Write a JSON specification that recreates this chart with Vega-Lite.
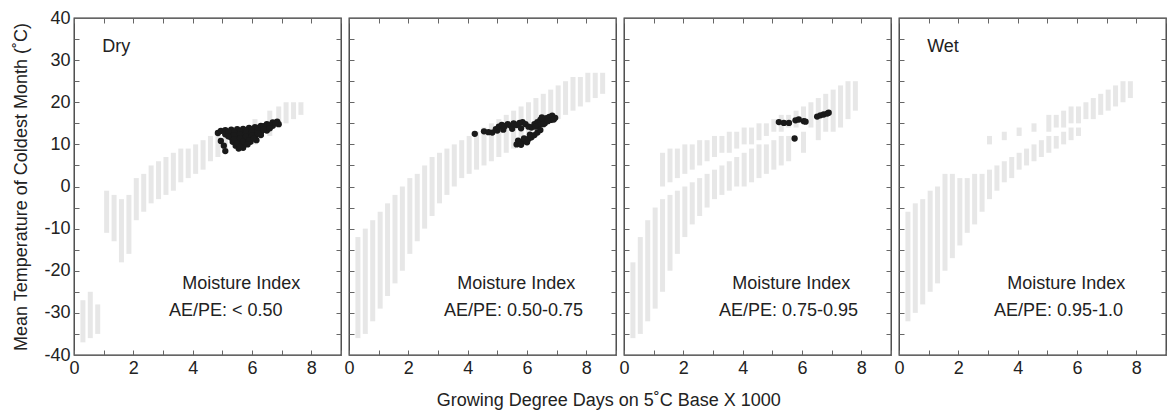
{
  "$schema": "https://vega.github.io/schema/vega-lite/v6.json",
  "padding": {"left": 12, "top": 8, "right": 0, "bottom": 4},
  "spacing": 8,
  "bounds": "flush",
  "title": {"text": "Growing Degree Days on 5˚C Base X 1000", "orient": "bottom", "anchor": "middle", "fontSize": 18, "fontWeight": "normal", "font": "Liberation Sans", "color": "#222", "offset": 14, "dx": 19},
  "data": {"values": [
    {"p":1,"k":"g","x":0.3,"y":-37,"y2":-27},{"p":1,"k":"g","x":0.55,"y":-36,"y2":-25},{"p":1,"k":"g","x":0.8,"y":-35,"y2":-28},
    {"p":1,"k":"g","x":1.1,"y":-11,"y2":-1},{"p":1,"k":"g","x":1.35,"y":-13,"y2":-2},{"p":1,"k":"g","x":1.6,"y":-18,"y2":-3},{"p":1,"k":"g","x":1.85,"y":-16,"y2":-2},
    {"p":1,"k":"g","x":2.1,"y":-8,"y2":2},{"p":1,"k":"g","x":2.35,"y":-6,"y2":3},{"p":1,"k":"g","x":2.6,"y":-4,"y2":5},{"p":1,"k":"g","x":2.85,"y":-3,"y2":6},
    {"p":1,"k":"g","x":3.1,"y":-2,"y2":7},{"p":1,"k":"g","x":3.35,"y":-1,"y2":8},{"p":1,"k":"g","x":3.6,"y":1,"y2":9},{"p":1,"k":"g","x":3.85,"y":2,"y2":9},
    {"p":1,"k":"g","x":4.1,"y":3,"y2":10},{"p":1,"k":"g","x":4.35,"y":4,"y2":11},{"p":1,"k":"g","x":4.6,"y":6,"y2":12},{"p":1,"k":"g","x":4.85,"y":7,"y2":13},
    {"p":1,"k":"g","x":5.1,"y":8,"y2":13},{"p":1,"k":"g","x":5.6,"y":9,"y2":14},{"p":1,"k":"g","x":6.1,"y":10,"y2":16},{"p":1,"k":"g","x":6.6,"y":12,"y2":18},
    {"p":1,"k":"g","x":6.9,"y":14,"y2":19},{"p":1,"k":"g","x":7.15,"y":15,"y2":20},{"p":1,"k":"g","x":7.4,"y":16,"y2":20},{"p":1,"k":"g","x":7.65,"y":17,"y2":20},

    {"p":2,"k":"g","x":0.3,"y":-36,"y2":-12},{"p":2,"k":"g","x":0.55,"y":-35,"y2":-10},{"p":2,"k":"g","x":0.8,"y":-32,"y2":-8},{"p":2,"k":"g","x":1.05,"y":-29,"y2":-6},
    {"p":2,"k":"g","x":1.3,"y":-26,"y2":-4},{"p":2,"k":"g","x":1.55,"y":-23,"y2":-2},{"p":2,"k":"g","x":1.8,"y":-20,"y2":0},{"p":2,"k":"g","x":2.05,"y":-16,"y2":2},
    {"p":2,"k":"g","x":2.3,"y":-13,"y2":3},{"p":2,"k":"g","x":2.55,"y":-10,"y2":5},{"p":2,"k":"g","x":2.8,"y":-7,"y2":7},{"p":2,"k":"g","x":3.05,"y":-4,"y2":8},
    {"p":2,"k":"g","x":3.3,"y":-2,"y2":9},{"p":2,"k":"g","x":3.55,"y":0,"y2":10},{"p":2,"k":"g","x":3.8,"y":2,"y2":11},{"p":2,"k":"g","x":4.05,"y":3,"y2":12},
    {"p":2,"k":"g","x":4.3,"y":4,"y2":13},{"p":2,"k":"g","x":4.55,"y":5,"y2":14},{"p":2,"k":"g","x":4.8,"y":6,"y2":15},{"p":2,"k":"g","x":5.05,"y":7,"y2":16},
    {"p":2,"k":"g","x":5.3,"y":8,"y2":17},{"p":2,"k":"g","x":5.55,"y":9,"y2":18},{"p":2,"k":"g","x":5.8,"y":10,"y2":19},{"p":2,"k":"g","x":6.05,"y":11,"y2":20},
    {"p":2,"k":"g","x":6.3,"y":12,"y2":21},{"p":2,"k":"g","x":6.55,"y":14,"y2":22},{"p":2,"k":"g","x":6.8,"y":15,"y2":23},{"p":2,"k":"g","x":7.05,"y":16,"y2":24},
    {"p":2,"k":"g","x":7.3,"y":17,"y2":25},{"p":2,"k":"g","x":7.55,"y":18,"y2":26},{"p":2,"k":"g","x":7.8,"y":19,"y2":26},{"p":2,"k":"g","x":8.05,"y":20,"y2":27},
    {"p":2,"k":"g","x":8.3,"y":21,"y2":27},{"p":2,"k":"g","x":8.55,"y":22,"y2":27},

    {"p":3,"k":"g","x":0.3,"y":-36,"y2":-18},{"p":3,"k":"g","x":0.55,"y":-35,"y2":-12},{"p":3,"k":"g","x":0.8,"y":-32,"y2":-8},{"p":3,"k":"g","x":1.05,"y":-29,"y2":-5},
    {"p":3,"k":"g","x":1.3,"y":-25,"y2":-3},{"p":3,"k":"g","x":1.55,"y":-20,"y2":-2},{"p":3,"k":"g","x":1.8,"y":-16,"y2":-1},{"p":3,"k":"g","x":2.05,"y":-12,"y2":0},
    {"p":3,"k":"g","x":2.3,"y":-9,"y2":1},{"p":3,"k":"g","x":2.55,"y":-7,"y2":2},{"p":3,"k":"g","x":2.8,"y":-5,"y2":3},{"p":3,"k":"g","x":3.05,"y":-3,"y2":4},
    {"p":3,"k":"g","x":3.3,"y":-2,"y2":5},{"p":3,"k":"g","x":3.55,"y":-1,"y2":6},{"p":3,"k":"g","x":3.8,"y":0,"y2":7},{"p":3,"k":"g","x":4.05,"y":0,"y2":8},
    {"p":3,"k":"g","x":4.3,"y":1,"y2":9},{"p":3,"k":"g","x":4.55,"y":2,"y2":10},{"p":3,"k":"g","x":4.8,"y":3,"y2":10},{"p":3,"k":"g","x":5.05,"y":4,"y2":11},
    {"p":3,"k":"g","x":5.3,"y":5,"y2":12},{"p":3,"k":"g","x":5.55,"y":6,"y2":12},{"p":3,"k":"g","x":6.05,"y":8,"y2":13},{"p":3,"k":"g","x":6.55,"y":11,"y2":15},
    {"p":3,"k":"g","x":1.3,"y":0,"y2":8},{"p":3,"k":"g","x":1.55,"y":1,"y2":9},{"p":3,"k":"g","x":1.8,"y":2,"y2":9},{"p":3,"k":"g","x":2.05,"y":3,"y2":10},
    {"p":3,"k":"g","x":2.3,"y":4,"y2":10},{"p":3,"k":"g","x":2.55,"y":5,"y2":11},{"p":3,"k":"g","x":2.8,"y":6,"y2":11},{"p":3,"k":"g","x":3.05,"y":7,"y2":12},
    {"p":3,"k":"g","x":3.3,"y":8,"y2":12},{"p":3,"k":"g","x":3.55,"y":8,"y2":13},{"p":3,"k":"g","x":3.8,"y":9,"y2":13},{"p":3,"k":"g","x":4.05,"y":10,"y2":14},
    {"p":3,"k":"g","x":4.3,"y":10,"y2":14},{"p":3,"k":"g","x":4.55,"y":11,"y2":15},{"p":3,"k":"g","x":4.8,"y":12,"y2":15},{"p":3,"k":"g","x":5.05,"y":13,"y2":16},
    {"p":3,"k":"g","x":5.3,"y":13,"y2":17},{"p":3,"k":"g","x":5.55,"y":14,"y2":17},{"p":3,"k":"g","x":5.8,"y":14,"y2":18},{"p":3,"k":"g","x":6.05,"y":15,"y2":19},
    {"p":3,"k":"g","x":6.3,"y":14,"y2":20},{"p":3,"k":"g","x":6.55,"y":15,"y2":21},{"p":3,"k":"g","x":6.8,"y":13,"y2":22},{"p":3,"k":"g","x":7.05,"y":13,"y2":23},
    {"p":3,"k":"g","x":7.3,"y":14,"y2":24},{"p":3,"k":"g","x":7.55,"y":16,"y2":25},{"p":3,"k":"g","x":7.8,"y":18,"y2":25},

    {"p":4,"k":"g","x":0.3,"y":-32,"y2":-6},{"p":4,"k":"g","x":0.55,"y":-30,"y2":-4},{"p":4,"k":"g","x":0.8,"y":-28,"y2":-3},{"p":4,"k":"g","x":1.05,"y":-25,"y2":-1},
    {"p":4,"k":"g","x":1.3,"y":-23,"y2":0},{"p":4,"k":"g","x":1.55,"y":-20,"y2":3},{"p":4,"k":"g","x":1.8,"y":-17,"y2":3},{"p":4,"k":"g","x":2.05,"y":-14,"y2":2},
    {"p":4,"k":"g","x":2.3,"y":-11,"y2":2},{"p":4,"k":"g","x":2.55,"y":-9,"y2":3},{"p":4,"k":"g","x":2.8,"y":-6,"y2":3},{"p":4,"k":"g","x":3.05,"y":-3,"y2":4},
    {"p":4,"k":"g","x":3.3,"y":-1,"y2":5},{"p":4,"k":"g","x":3.55,"y":1,"y2":6},{"p":4,"k":"g","x":3.8,"y":2,"y2":7},{"p":4,"k":"g","x":4.05,"y":4,"y2":8},
    {"p":4,"k":"g","x":4.3,"y":5,"y2":9},{"p":4,"k":"g","x":4.55,"y":6,"y2":10},{"p":4,"k":"g","x":4.8,"y":7,"y2":11},{"p":4,"k":"g","x":5.05,"y":8,"y2":12},
    {"p":4,"k":"g","x":5.3,"y":9,"y2":12},{"p":4,"k":"g","x":5.55,"y":10,"y2":13},{"p":4,"k":"g","x":5.8,"y":11,"y2":14},{"p":4,"k":"g","x":6.05,"y":12,"y2":14},
    {"p":4,"k":"g","x":3.05,"y":10,"y2":12},{"p":4,"k":"g","x":3.55,"y":11,"y2":13},{"p":4,"k":"g","x":4.05,"y":12,"y2":14},{"p":4,"k":"g","x":4.55,"y":13,"y2":15},
    {"p":4,"k":"g","x":5.05,"y":13,"y2":17},{"p":4,"k":"g","x":5.3,"y":14,"y2":17},{"p":4,"k":"g","x":5.55,"y":14,"y2":18},{"p":4,"k":"g","x":5.8,"y":15,"y2":19},
    {"p":4,"k":"g","x":6.05,"y":15,"y2":19},{"p":4,"k":"g","x":6.3,"y":16,"y2":20},{"p":4,"k":"g","x":6.55,"y":16,"y2":21},{"p":4,"k":"g","x":6.8,"y":17,"y2":22},
    {"p":4,"k":"g","x":7.05,"y":18,"y2":23},{"p":4,"k":"g","x":7.3,"y":19,"y2":24},{"p":4,"k":"g","x":7.55,"y":20,"y2":25},{"p":4,"k":"g","x":7.8,"y":21,"y2":25},

    {"p":1,"k":"b","x":4.85,"y":12.7},{"p":1,"k":"b","x":4.95,"y":10.8},{"p":1,"k":"b","x":5.05,"y":9.7},{"p":1,"k":"b","x":5.1,"y":8.4},
    {"p":1,"k":"b","x":4.95,"y":13.2},{"p":1,"k":"b","x":5.1,"y":13.4},{"p":1,"k":"b","x":5.3,"y":13.5},{"p":1,"k":"b","x":5.5,"y":13.6},{"p":1,"k":"b","x":5.7,"y":13.7},
    {"p":1,"k":"b","x":5.9,"y":13.9},{"p":1,"k":"b","x":6.1,"y":14.1},{"p":1,"k":"b","x":6.3,"y":14.4},{"p":1,"k":"b","x":6.5,"y":14.8},{"p":1,"k":"b","x":6.7,"y":15.2},{"p":1,"k":"b","x":6.85,"y":15.4},
    {"p":1,"k":"b","x":5.1,"y":12.4},{"p":1,"k":"b","x":5.3,"y":12.6},{"p":1,"k":"b","x":5.5,"y":12.8},{"p":1,"k":"b","x":5.7,"y":13.0},{"p":1,"k":"b","x":5.9,"y":13.2},
    {"p":1,"k":"b","x":6.1,"y":13.4},{"p":1,"k":"b","x":6.3,"y":13.7},{"p":1,"k":"b","x":6.5,"y":14.0},{"p":1,"k":"b","x":6.7,"y":14.4},{"p":1,"k":"b","x":6.9,"y":14.8},
    {"p":1,"k":"b","x":5.3,"y":11.6},{"p":1,"k":"b","x":5.5,"y":11.8},{"p":1,"k":"b","x":5.7,"y":12.1},{"p":1,"k":"b","x":5.9,"y":12.4},{"p":1,"k":"b","x":6.1,"y":12.6},{"p":1,"k":"b","x":6.3,"y":12.9},{"p":1,"k":"b","x":6.5,"y":13.3},
    {"p":1,"k":"b","x":5.35,"y":10.6},{"p":1,"k":"b","x":5.5,"y":10.8},{"p":1,"k":"b","x":5.7,"y":11.1},{"p":1,"k":"b","x":5.9,"y":11.5},{"p":1,"k":"b","x":6.1,"y":11.8},{"p":1,"k":"b","x":6.3,"y":12.2},
    {"p":1,"k":"b","x":5.45,"y":9.7},{"p":1,"k":"b","x":5.6,"y":9.8},{"p":1,"k":"b","x":5.75,"y":10.2},{"p":1,"k":"b","x":5.95,"y":10.6},{"p":1,"k":"b","x":6.15,"y":11.0},
    {"p":1,"k":"b","x":5.55,"y":9.0},{"p":1,"k":"b","x":5.7,"y":9.2},
    {"p":1,"k":"b","x":5.2,"y":13.0},{"p":1,"k":"b","x":5.4,"y":13.0},{"p":1,"k":"b","x":5.6,"y":13.2},{"p":1,"k":"b","x":5.8,"y":13.4},{"p":1,"k":"b","x":6.0,"y":13.6},
    {"p":1,"k":"b","x":6.2,"y":13.9},{"p":1,"k":"b","x":6.4,"y":14.3},{"p":1,"k":"b","x":6.6,"y":14.6},{"p":1,"k":"b","x":6.8,"y":15.0},{"p":1,"k":"b","x":5.2,"y":11.9},
    {"p":1,"k":"b","x":5.4,"y":12.2},{"p":1,"k":"b","x":5.6,"y":12.4},{"p":1,"k":"b","x":5.8,"y":12.7},{"p":1,"k":"b","x":6.0,"y":12.9},{"p":1,"k":"b","x":6.2,"y":13.2},
    {"p":1,"k":"b","x":6.4,"y":13.5},{"p":1,"k":"b","x":6.6,"y":13.8},{"p":1,"k":"b","x":5.4,"y":11.2},{"p":1,"k":"b","x":5.6,"y":11.4},{"p":1,"k":"b","x":5.8,"y":11.8},
    {"p":1,"k":"b","x":6.0,"y":12.1},{"p":1,"k":"b","x":6.2,"y":12.5},{"p":1,"k":"b","x":5.5,"y":10.3},{"p":1,"k":"b","x":5.7,"y":10.6},{"p":1,"k":"b","x":5.9,"y":11.0},
    {"p":1,"k":"b","x":6.05,"y":11.4},{"p":1,"k":"b","x":5.6,"y":9.4},{"p":1,"k":"b","x":5.85,"y":10.0},

    {"p":2,"k":"b","x":4.24,"y":12.5},{"p":2,"k":"b","x":4.55,"y":13.1},{"p":2,"k":"b","x":4.7,"y":12.9},{"p":2,"k":"b","x":4.83,"y":12.8},
    {"p":2,"k":"b","x":4.95,"y":13.6},{"p":2,"k":"b","x":5.0,"y":13.3},{"p":2,"k":"b","x":5.05,"y":14.2},{"p":2,"k":"b","x":5.15,"y":14.6},{"p":2,"k":"b","x":5.2,"y":13.5},
    {"p":2,"k":"b","x":5.25,"y":14.3},{"p":2,"k":"b","x":5.35,"y":14.8},{"p":2,"k":"b","x":5.45,"y":14.4},{"p":2,"k":"b","x":5.5,"y":13.7},{"p":2,"k":"b","x":5.55,"y":15.0},
    {"p":2,"k":"b","x":5.65,"y":14.6},{"p":2,"k":"b","x":5.75,"y":15.1},{"p":2,"k":"b","x":5.8,"y":13.8},{"p":2,"k":"b","x":5.85,"y":15.3},{"p":2,"k":"b","x":5.95,"y":14.8},
    {"p":2,"k":"b","x":6.05,"y":14.2},{"p":2,"k":"b","x":6.15,"y":14.0},
    {"p":2,"k":"b","x":6.25,"y":14.8},{"p":2,"k":"b","x":6.35,"y":15.3},{"p":2,"k":"b","x":6.4,"y":14.5},{"p":2,"k":"b","x":6.45,"y":15.8},{"p":2,"k":"b","x":6.55,"y":15.4},
    {"p":2,"k":"b","x":6.6,"y":15.0},{"p":2,"k":"b","x":6.65,"y":16.2},{"p":2,"k":"b","x":6.75,"y":16.5},{"p":2,"k":"b","x":6.8,"y":15.8},{"p":2,"k":"b","x":6.85,"y":16.8},{"p":2,"k":"b","x":6.95,"y":16.3},
    {"p":2,"k":"b","x":6.5,"y":16.4},{"p":2,"k":"b","x":6.7,"y":15.5},{"p":2,"k":"b","x":6.9,"y":15.9},{"p":2,"k":"b","x":6.3,"y":14.2},{"p":2,"k":"b","x":6.55,"y":14.8},
    {"p":2,"k":"b","x":5.65,"y":10.0},{"p":2,"k":"b","x":5.75,"y":10.3},{"p":2,"k":"b","x":5.85,"y":10.6},{"p":2,"k":"b","x":5.95,"y":10.9},{"p":2,"k":"b","x":6.05,"y":11.3},
    {"p":2,"k":"b","x":6.15,"y":11.7},{"p":2,"k":"b","x":6.25,"y":12.2},{"p":2,"k":"b","x":6.35,"y":12.8},{"p":2,"k":"b","x":6.45,"y":13.4},{"p":2,"k":"b","x":5.7,"y":10.9},
    {"p":2,"k":"b","x":5.9,"y":11.4},{"p":2,"k":"b","x":6.1,"y":12.3},{"p":2,"k":"b","x":5.8,"y":9.9},{"p":2,"k":"b","x":6.0,"y":10.5},

    {"p":3,"k":"b","x":5.22,"y":15.3},{"p":3,"k":"b","x":5.39,"y":15.1},{"p":3,"k":"b","x":5.56,"y":15.1},{"p":3,"k":"b","x":5.78,"y":15.7},{"p":3,"k":"b","x":5.89,"y":15.9},
    {"p":3,"k":"b","x":6.06,"y":15.5},{"p":3,"k":"b","x":6.12,"y":15.4},{"p":3,"k":"b","x":5.75,"y":11.4},{"p":3,"k":"b","x":6.51,"y":16.6},{"p":3,"k":"b","x":6.62,"y":16.9},
    {"p":3,"k":"b","x":6.73,"y":17.1},{"p":3,"k":"b","x":6.85,"y":17.3},{"p":3,"k":"b","x":6.9,"y":17.5},

    {"p":1,"k":"t","x":0.95,"y":33.2,"t":"Dry"},{"p":1,"k":"t","x":3.65,"y":-23.2,"t":"Moisture Index"},{"p":1,"k":"t","x":3.2,"y":-29.5,"t":"AE/PE: < 0.50"},
    {"p":2,"k":"t","x":3.65,"y":-23.2,"t":"Moisture Index"},{"p":2,"k":"t","x":3.2,"y":-29.5,"t":"AE/PE: 0.50-0.75"},
    {"p":3,"k":"t","x":3.65,"y":-23.2,"t":"Moisture Index"},{"p":3,"k":"t","x":3.2,"y":-29.5,"t":"AE/PE: 0.75-0.95"},
    {"p":4,"k":"t","x":0.95,"y":33.2,"t":"Wet"},{"p":4,"k":"t","x":3.65,"y":-23.2,"t":"Moisture Index"},{"p":4,"k":"t","x":3.2,"y":-29.5,"t":"AE/PE: 0.95-1.0"}
  ]},
  "hconcat": [
    {
      "width": 267, "height": 337,
      "transform": [{"filter": "datum.p == 1"}],
      "resolve": {"axis": {"x": "independent", "y": "independent"}},
      "layer": [
        {"transform": [{"filter": "datum.k == 'g'"}],
         "mark": {"type": "rule", "strokeWidth": 5, "color": "#a8a8a8", "opacity": 0.28},
         "encoding": {
           "x": {"field": "x", "type": "quantitative", "scale": {"domain": [0, 9], "nice": false, "zero": false}, "axis": {"values": [0,1,2,3,4,5,6,7,8,9], "labelExpr": "datum.value % 2 === 0 ? '' + datum.value : ''", "title": null}},
           "y": {"field": "y", "type": "quantitative", "scale": {"domain": [-40, 40], "nice": false, "zero": false}, "axis": {"values": [-40,-35,-30,-25,-20,-15,-10,-5,0,5,10,15,20,25,30,35,40], "labelExpr": "datum.value % 10 === 0 ? '' + datum.value : ''", "title": "Mean Temperature of Coldest Month (˚C)"}},
           "y2": {"field": "y2"}
         }},
        {"transform": [{"filter": "datum.k == 'b'"}],
         "mark": {"type": "circle", "size": 40, "color": "#1a1a1a", "opacity": 1},
         "encoding": {
           "x": {"field": "x", "type": "quantitative", "axis": null},
           "y": {"field": "y", "type": "quantitative", "axis": null}
         }},
        {"transform": [{"filter": "datum.k == 't'"}],
         "mark": {"type": "text", "align": "left", "baseline": "middle", "fontSize": 18, "font": "Liberation Sans", "color": "#222"},
         "encoding": {
           "x": {"field": "x", "type": "quantitative", "axis": {"orient": "top", "values": [0,1,2,3,4,5,6,7,8,9], "labels": false, "title": null}},
           "y": {"field": "y", "type": "quantitative", "axis": {"orient": "right", "values": [-40,-35,-30,-25,-20,-15,-10,-5,0,5,10,15,20,25,30,35,40], "labels": false, "title": null}},
           "text": {"field": "t"}
         }}
      ]
    },
    {
      "width": 267, "height": 337,
      "transform": [{"filter": "datum.p == 2"}],
      "resolve": {"axis": {"x": "independent", "y": "independent"}},
      "layer": [
        {"transform": [{"filter": "datum.k == 'g'"}],
         "mark": {"type": "rule", "strokeWidth": 5, "color": "#a8a8a8", "opacity": 0.28},
         "encoding": {
           "x": {"field": "x", "type": "quantitative", "scale": {"domain": [0, 9], "nice": false, "zero": false}, "axis": {"values": [0,1,2,3,4,5,6,7,8,9], "labelExpr": "datum.value % 2 === 0 ? '' + datum.value : ''", "title": null}},
           "y": {"field": "y", "type": "quantitative", "scale": {"domain": [-40, 40], "nice": false, "zero": false}, "axis": {"values": [-40,-35,-30,-25,-20,-15,-10,-5,0,5,10,15,20,25,30,35,40], "labels": false, "title": null}},
           "y2": {"field": "y2"}
         }},
        {"transform": [{"filter": "datum.k == 'b'"}],
         "mark": {"type": "circle", "size": 40, "color": "#1a1a1a", "opacity": 1},
         "encoding": {
           "x": {"field": "x", "type": "quantitative", "axis": null},
           "y": {"field": "y", "type": "quantitative", "axis": null}
         }},
        {"transform": [{"filter": "datum.k == 't'"}],
         "mark": {"type": "text", "align": "left", "baseline": "middle", "fontSize": 18, "font": "Liberation Sans", "color": "#222"},
         "encoding": {
           "x": {"field": "x", "type": "quantitative", "axis": {"orient": "top", "values": [0,1,2,3,4,5,6,7,8,9], "labels": false, "title": null}},
           "y": {"field": "y", "type": "quantitative", "axis": {"orient": "right", "values": [-40,-35,-30,-25,-20,-15,-10,-5,0,5,10,15,20,25,30,35,40], "labels": false, "title": null}},
           "text": {"field": "t"}
         }}
      ]
    },
    {
      "width": 267, "height": 337,
      "transform": [{"filter": "datum.p == 3"}],
      "resolve": {"axis": {"x": "independent", "y": "independent"}},
      "layer": [
        {"transform": [{"filter": "datum.k == 'g'"}],
         "mark": {"type": "rule", "strokeWidth": 5, "color": "#a8a8a8", "opacity": 0.28},
         "encoding": {
           "x": {"field": "x", "type": "quantitative", "scale": {"domain": [0, 9], "nice": false, "zero": false}, "axis": {"values": [0,1,2,3,4,5,6,7,8,9], "labelExpr": "datum.value % 2 === 0 ? '' + datum.value : ''", "title": null}},
           "y": {"field": "y", "type": "quantitative", "scale": {"domain": [-40, 40], "nice": false, "zero": false}, "axis": {"values": [-40,-35,-30,-25,-20,-15,-10,-5,0,5,10,15,20,25,30,35,40], "labels": false, "title": null}},
           "y2": {"field": "y2"}
         }},
        {"transform": [{"filter": "datum.k == 'b'"}],
         "mark": {"type": "circle", "size": 40, "color": "#1a1a1a", "opacity": 1},
         "encoding": {
           "x": {"field": "x", "type": "quantitative", "axis": null},
           "y": {"field": "y", "type": "quantitative", "axis": null}
         }},
        {"transform": [{"filter": "datum.k == 't'"}],
         "mark": {"type": "text", "align": "left", "baseline": "middle", "fontSize": 18, "font": "Liberation Sans", "color": "#222"},
         "encoding": {
           "x": {"field": "x", "type": "quantitative", "axis": {"orient": "top", "values": [0,1,2,3,4,5,6,7,8,9], "labels": false, "title": null}},
           "y": {"field": "y", "type": "quantitative", "axis": {"orient": "right", "values": [-40,-35,-30,-25,-20,-15,-10,-5,0,5,10,15,20,25,30,35,40], "labels": false, "title": null}},
           "text": {"field": "t"}
         }}
      ]
    },
    {
      "width": 267, "height": 337,
      "transform": [{"filter": "datum.p == 4"}],
      "resolve": {"axis": {"x": "independent", "y": "independent"}},
      "layer": [
        {"transform": [{"filter": "datum.k == 'g'"}],
         "mark": {"type": "rule", "strokeWidth": 5, "color": "#a8a8a8", "opacity": 0.28},
         "encoding": {
           "x": {"field": "x", "type": "quantitative", "scale": {"domain": [0, 9], "nice": false, "zero": false}, "axis": {"values": [0,1,2,3,4,5,6,7,8,9], "labelExpr": "datum.value % 2 === 0 ? '' + datum.value : ''", "title": null}},
           "y": {"field": "y", "type": "quantitative", "scale": {"domain": [-40, 40], "nice": false, "zero": false}, "axis": {"values": [-40,-35,-30,-25,-20,-15,-10,-5,0,5,10,15,20,25,30,35,40], "labels": false, "title": null}},
           "y2": {"field": "y2"}
         }},
        {"transform": [{"filter": "datum.k == 't'"}],
         "mark": {"type": "text", "align": "left", "baseline": "middle", "fontSize": 18, "font": "Liberation Sans", "color": "#222"},
         "encoding": {
           "x": {"field": "x", "type": "quantitative", "axis": {"orient": "top", "values": [0,1,2,3,4,5,6,7,8,9], "labels": false, "title": null}},
           "y": {"field": "y", "type": "quantitative", "axis": {"orient": "right", "values": [-40,-35,-30,-25,-20,-15,-10,-5,0,5,10,15,20,25,30,35,40], "labels": false, "title": null}},
           "text": {"field": "t"}
         }}
      ]
    }
  ],
  "config": {
    "view": {"stroke": "#333", "strokeWidth": 1.3},
    "axis": {"grid": false, "domain": false, "tickSize": -5, "tickColor": "#666", "tickWidth": 1, "labelPadding": 9, "labelFontSize": 18, "labelFont": "Liberation Sans", "labelColor": "#222", "titleFont": "Liberation Sans", "titleFontSize": 18, "titleFontWeight": "normal", "titleColor": "#222", "titlePadding": 13, "labelFlush": false, "labelOverlap": false}
  }
}
